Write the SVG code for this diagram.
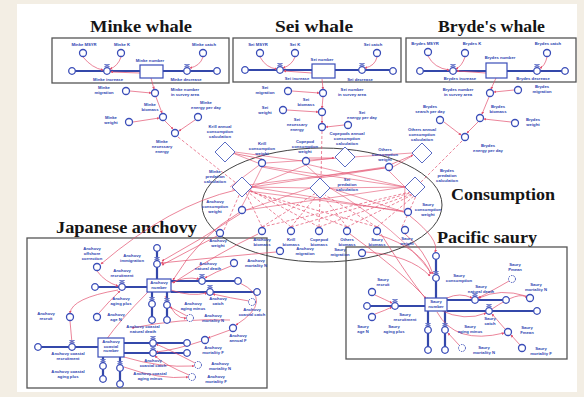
<svg xmlns="http://www.w3.org/2000/svg" xmlns:xlink="http://www.w3.org/1999/xlink" width="584" height="397" viewBox="0 0 584 397">
<style>
.t{font-family:"Liberation Sans",Arial,sans-serif;font-size:4.2px;font-weight:bold;fill:#2b3fb0;text-anchor:middle}
.ti{font-family:"Liberation Serif","Times New Roman",serif;font-weight:bold;font-size:16px;fill:#151515}
.c{fill:#fff;stroke:#3a4db8;stroke-width:1.3}
.cd{fill:#fff;stroke:#3a4db8;stroke-width:1;stroke-dasharray:1.5 1}
.dia{fill:#fff;stroke:#5a6cc4;stroke-width:1}
.stk{fill:#fff;stroke:#3a4db8;stroke-width:1.2}
.box{fill:none;stroke:#555;stroke-width:1.3}
.fl{fill:none;stroke:#3448aa;stroke-width:2.2}
.r{fill:none;stroke:#e2506e;stroke-width:0.7;marker-end:url(#ah)}
.rw{fill:none;stroke:#e2506e;stroke-width:0.6}
.rd{fill:none;stroke:#e2506e;stroke-width:0.7;stroke-dasharray:3 2}
</style>
<defs>
<marker id="ah" viewBox="0 0 6 6" refX="5" refY="3" markerWidth="4" markerHeight="4" orient="auto"><path d="M0,0 L6,3 L0,6 z" fill="#e2506e"/></marker>
<g id="valve"><path d="M-2.5,-6.5 L2.5,-6.5 L-2.5,-4.3 L2.5,-4.3 Z" fill="#fff" stroke="#3a4db8" stroke-width="0.6"/><circle r="3.3" fill="#fff" stroke="#3a4db8" stroke-width="1.3"/></g>
<g id="cloud"><circle r="3.3" fill="#fff" stroke="#3a4db8" stroke-width="1.3"/></g>
</defs>
<rect width="584" height="397" fill="#f3eee4"/>
<rect x="17" y="4" width="560" height="388" fill="#fff"/>

<!-- titles -->
<text class="ti" x="90" y="32" textLength="102" lengthAdjust="spacingAndGlyphs">Minke whale</text>
<text class="ti" x="275" y="32" textLength="78" lengthAdjust="spacingAndGlyphs">Sei whale</text>
<text class="ti" x="438" y="32" textLength="107" lengthAdjust="spacingAndGlyphs">Bryde's whale</text>
<text class="ti" x="451" y="200" textLength="104" lengthAdjust="spacingAndGlyphs">Consumption</text>
<text class="ti" x="56" y="233" textLength="141" lengthAdjust="spacingAndGlyphs">Japanese anchovy</text>
<text class="ti" x="437" y="243" textLength="100" lengthAdjust="spacingAndGlyphs">Pacific saury</text>

<!-- frames -->
<rect class="box" x="52" y="38" width="177" height="45"/>
<rect class="box" x="233" y="38" width="168" height="44"/>
<rect class="box" x="406" y="38" width="170" height="44"/>
<rect class="box" x="27" y="238" width="240" height="150"/>
<rect class="box" x="346" y="247" width="221" height="112"/>
<ellipse cx="322" cy="205" rx="120" ry="57" fill="none" stroke="#444" stroke-width="1"/>

<g id="connectors">
<!-- flows -->
<path class="fl" d="M72,71 H140 M163,71 H217"/>
<path class="fl" d="M245,70 H312 M335,70 H393"/>
<path class="fl" d="M420,71 H486 M507,71 H565"/>
<path class="fl" d="M157,248 V280 M95,287 H147 M171,281 H238 M171,292 H257 M152,292 V318 M167,292 V318"/>
<path class="fl" d="M38,347 H98 M124,343 H187 M124,353 H187 M103,357 V378 M120,357 V383"/>
<path class="fl" d="M436,258 V298 M367,306 H425 M447,300 H506 M447,311 H537 M428,310 V350 M445,310 V350"/>
<!-- minke -->
<path class="r" d="M83,57 Q92,68 103,70"/>
<path class="r" d="M121,57 Q118,66 110,69"/>
<path class="r" d="M140,73 L111,72"/>
<path class="r" d="M203,57 Q200,66 190,68"/>
<path class="r" d="M151,78 L154,89"/>
<path class="r" d="M130,91 L151,93"/>
<path class="r" d="M156,97 L162,113"/>
<path class="r" d="M133,122 L159,118"/>
<path class="r" d="M165,121 L173,129"/>
<path class="r" d="M195,120 L179,131"/>
<path class="rd" d="M178,137 L236,183"/>
<!-- sei -->
<path class="r" d="M260,57 Q266,68 277,69"/>
<path class="r" d="M295,57 Q292,65 283,68"/>
<path class="r" d="M312,73 L284,71"/>
<path class="r" d="M377,57 Q375,66 365,68"/>
<path class="r" d="M322,79 L323,89"/>
<path class="r" d="M292,91 L319,93"/>
<path class="r" d="M323,97 L322,108"/>
<path class="r" d="M287,110 L318,112"/>
<path class="r" d="M322,116 L322,123"/>
<path class="r" d="M344,125 L326,127"/>
<path class="rd" d="M322,131 L321,180"/>
<!-- bryde -->
<path class="r" d="M428,56 Q434,68 449,70"/>
<path class="r" d="M465,57 Q462,66 456,69"/>
<path class="r" d="M486,73 L457,71"/>
<path class="r" d="M547,57 Q545,66 540,68"/>
<path class="r" d="M496,78 L491,89"/>
<path class="r" d="M514,90 L494,92"/>
<path class="r" d="M489,97 L482,114"/>
<path class="r" d="M511,122 L484,119"/>
<path class="r" d="M478,122 L467,133"/>
<path class="r" d="M444,122 L461,135"/>
<path class="rd" d="M462,141 L421,182"/>
<!-- consumption web -->
<path class="rw" d="M252,187 L262,167 M252,187 L306,165 M252,187 L385,167 M252,187 L242,206 M252,187 L404,212"/>
<path class="rw" d="M230,187 L262,163 M232,187 L385,168 M232,189 L404,211"/>
<path class="rw" d="M320,178 L262,167 M320,178 L306,165 M320,178 L385,168 M310,188 L246,210 M330,188 L404,212 M310,188 L252,187"/>
<path class="rw" d="M405,187 L262,166 M405,187 L306,164 M405,187 L389,171 M405,187 L246,210 M405,187 L404,210 M405,187 L330,188"/>
<path class="rw" d="M258,163 L235,154 M310,161 L334,158 M393,167 L412,156 M266,163 L412,153 M302,161 L235,152"/>
<path class="r" d="M262,159 L232,153"/>
<path class="r" d="M309,158 L334,158"/>
<path class="r" d="M392,164 L413,155"/>
<!-- dashed biomass links -->
<path class="rd" d="M262,227 L246,193 M262,227 L316,193 M262,227 L410,192"/>
<path class="rd" d="M291,227 L248,192 M291,227 L318,194 M291,227 L410,193"/>
<path class="rd" d="M319,227 L250,190 M319,227 L320,197 M319,227 L412,194"/>
<path class="rd" d="M347,227 L250,191 M347,227 L323,196 M347,227 L412,195"/>
<path class="rd" d="M377,227 L251,192 M377,227 L325,195 M377,227 L414,196"/>
<path class="rd" d="M224,230 L240,193 M402,227 L416,196"/>
<!-- to anchovy -->
<path class="r" d="M240,214 Q200,240 162,261"/>
<path class="r" d="M217,236 Q190,250 162,265"/>
<path class="r" d="M258,234 Q220,252 173,283"/>
<path class="r" d="M276,252 Q230,256 161,263"/>
<path class="r" d="M236,190 Q170,205 101,264"/>
<path class="r" d="M240,212 Q200,235 173,280"/>
<!-- to saury -->
<path class="r" d="M379,235 Q420,248 431,274"/>
<path class="r" d="M366,252 Q410,255 430,276"/>
<path class="r" d="M405,234 Q425,250 433,274"/>
<path class="r" d="M410,216 Q440,240 435,252"/>
<path class="r" d="M381,234 Q410,280 426,299"/>
<path class="r" d="M350,234 Q400,270 428,300"/>
<path class="rw" d="M330,188 Q400,230 432,274"/>
<!-- anchovy box -->
<path class="r" d="M97,271 Q105,282 118,286"/>
<path class="r" d="M99,313 Q110,300 120,291"/>
<path class="r" d="M118,290 Q72,298 70,313"/>
<path class="r" d="M70,321 L72,343"/>
<path class="r" d="M171,283 Q185,276 199,279"/>
<path class="r" d="M231,266 Q215,272 205,278"/>
<path class="r" d="M171,290 Q190,297 207,293"/>
<path class="r" d="M249,301 Q230,298 213,294"/>
<path class="r" d="M187,316 L170,307"/>
<path class="r" d="M230,330 L208,338"/>
<path class="r" d="M202,341 Q175,350 156,352"/>
<path class="r" d="M195,363 Q170,350 156,344"/>
<path class="r" d="M189,375 Q165,365 155,356"/>
<path class="r" d="M124,357 Q160,368 194,366"/>
<path class="r" d="M124,367 Q160,380 188,377"/>
<path class="r" d="M230,320 Q180,318 132,328"/>
<path class="r" d="M165,296 Q175,320 186,318"/>
<path class="r" d="M148,292 Q120,320 106,340"/>
<path class="r" d="M240,283 Q275,300 236,325"/>
<!-- saury box -->
<path class="r" d="M375,295 Q386,300 392,303"/>
<path class="r" d="M375,314 Q386,310 392,307"/>
<path class="r" d="M447,298 Q460,292 472,298"/>
<path class="r" d="M509,281 Q490,292 478,298"/>
<path class="r" d="M526,296 Q500,288 479,298"/>
<path class="r" d="M440,310 Q465,322 486,313"/>
<path class="r" d="M505,329 L492,314"/>
<path class="r" d="M520,345 L511,335"/>
<path class="r" d="M459,345 L448,333"/>
<path class="r" d="M437,312 Q455,345 504,333"/>
<path class="r" d="M492,309 Q520,290 527,298"/>
</g>

<!-- valves and clouds -->
<use href="#cloud" x="72" y="71"/><use href="#valve" x="107" y="71"/><use href="#valve" x="187" y="71"/><use href="#cloud" x="217" y="71"/>
<use href="#cloud" x="245" y="70"/><use href="#valve" x="280" y="70"/><use href="#valve" x="362" y="70"/><use href="#cloud" x="393" y="71"/>
<use href="#cloud" x="420" y="71"/><use href="#valve" x="453" y="71"/><use href="#valve" x="537" y="71"/><use href="#cloud" x="565" y="71"/>
<use href="#cloud" x="157" y="248"/><use href="#valve" x="157" y="264"/><use href="#cloud" x="95" y="287"/><use href="#valve" x="122" y="287"/>
<use href="#valve" x="202" y="281"/><use href="#cloud" x="238" y="281"/><use href="#valve" x="210" y="292"/><use href="#cloud" x="257" y="292"/>
<use href="#valve" x="152" y="304"/><use href="#cloud" x="152" y="320"/><use href="#valve" x="167" y="305"/><use href="#cloud" x="167" y="320"/>
<use href="#cloud" x="38" y="347"/><use href="#valve" x="72" y="347"/><use href="#valve" x="153" y="343"/><use href="#cloud" x="187" y="343"/>
<use href="#valve" x="153" y="353"/><use href="#cloud" x="187" y="353"/><use href="#valve" x="103" y="366"/><use href="#cloud" x="103" y="379"/>
<use href="#valve" x="120" y="368"/><use href="#cloud" x="120" y="384"/>
<use href="#cloud" x="436" y="256"/><use href="#valve" x="436" y="278"/><use href="#cloud" x="367" y="306"/><use href="#valve" x="395" y="306"/>
<use href="#valve" x="475" y="300"/><use href="#cloud" x="506" y="300"/><use href="#valve" x="489" y="311"/><use href="#cloud" x="537" y="311"/>
<use href="#valve" x="428" y="330"/><use href="#cloud" x="428" y="350"/><use href="#valve" x="445" y="330"/><use href="#cloud" x="445" y="350"/>

<!-- Minke -->
<g id="minke-msyr"><circle class="c" cx="83" cy="53" r="3.5"/><text class="t" x="84" y="46">Minke MSYR</text></g>
<g id="minke-k"><circle class="c" cx="121" cy="53" r="3.5"/><text class="t" x="122" y="46">Minke K</text></g>
<g id="minke-catch"><circle class="c" cx="203" cy="53" r="3.5"/><text class="t" x="204" y="46">Minke catch</text></g>
<g id="minke-number"><rect class="stk" x="140" y="65" width="23" height="13"/><text class="t" x="150" y="62">Minke number</text></g>
<g id="minke-increase"><text class="t" x="108" y="81">Minke increase</text></g>
<g id="minke-decrease"><text class="t" x="186" y="81">Minke decrease</text></g>
<g id="minke-survey"><circle class="c" cx="155" cy="93" r="3.5"/><text class="t" x="185" y="91">Minke number<tspan x="185" dy="4.8">in survey area</tspan></text></g>
<g id="minke-migration"><circle class="c" cx="126" cy="91" r="3.5"/><text class="t" x="104" y="89">Minke<tspan x="104" dy="4.8">migration</tspan></text></g>
<g id="minke-biomass"><circle class="c" cx="163" cy="117" r="3.5"/><text class="t" x="150" y="106">Minke<tspan x="150" dy="4.8">biomass</tspan></text></g>
<g id="minke-weight"><circle class="c" cx="129" cy="122" r="3.5"/><text class="t" x="111" y="119">Minke<tspan x="111" dy="4.8">weight</tspan></text></g>
<g id="minke-energy"><circle class="c" cx="198" cy="117" r="3.5"/><text class="t" x="206" y="104">Minke<tspan x="206" dy="4.8">energy per day</tspan></text></g>
<g id="minke-necessary"><circle class="c" cx="175" cy="133" r="3.5"/><text class="t" x="162" y="143">Minke<tspan x="162" dy="4.8">necessary</tspan><tspan x="162" dy="4.8">energy</tspan></text></g>

<!-- Sei -->
<g id="sei-msyr"><circle class="c" cx="260" cy="53" r="3.5"/><text class="t" x="258" y="46">Sei MSYR</text></g>
<g id="sei-k"><circle class="c" cx="295" cy="53" r="3.5"/><text class="t" x="295" y="46">Sei K</text></g>
<g id="sei-catch"><circle class="c" cx="377" cy="53" r="3.5"/><text class="t" x="373" y="46">Sei catch</text></g>
<g id="sei-number"><rect class="stk" x="312" y="64" width="23" height="14"/><text class="t" x="322" y="61">Sei number</text></g>
<g id="sei-increase"><text class="t" x="297" y="80">Sei increase</text></g>
<g id="sei-decrease"><text class="t" x="360" y="81">Sei decrease</text></g>
<g id="sei-survey"><circle class="c" cx="323" cy="93" r="3.5"/><text class="t" x="352" y="91">Sei number<tspan x="352" dy="4.8">in survey area</tspan></text></g>
<g id="sei-migration"><circle class="c" cx="288" cy="91" r="3.5"/><text class="t" x="265" y="89">Sei<tspan x="265" dy="4.8">migration</tspan></text></g>
<g id="sei-biomass"><circle class="c" cx="322" cy="112" r="3.5"/><text class="t" x="306" y="101">Sei<tspan x="306" dy="4.8">biomass</tspan></text></g>
<g id="sei-weight"><circle class="c" cx="283" cy="110" r="3.5"/><text class="t" x="265" y="109">Sei<tspan x="265" dy="4.8">weight</tspan></text></g>
<g id="sei-energy"><circle class="c" cx="348" cy="125" r="3.5"/><text class="t" x="362" y="114">Sei<tspan x="362" dy="4.8">energy per day</tspan></text></g>
<g id="sei-necessary"><circle class="c" cx="322" cy="127" r="3.5"/><text class="t" x="297" y="121">Sei<tspan x="297" dy="4.8">necessary</tspan><tspan x="297" dy="4.8">energy</tspan></text></g>

<!-- Bryde -->
<g id="brydes-msyr"><circle class="c" cx="428" cy="52" r="3.5"/><text class="t" x="425" y="45">Brydes MSYR</text></g>
<g id="brydes-k"><circle class="c" cx="465" cy="53" r="3.5"/><text class="t" x="472" y="45">Brydes K</text></g>
<g id="brydes-catch"><circle class="c" cx="547" cy="53" r="3.5"/><text class="t" x="548" y="45">Brydes catch</text></g>
<g id="brydes-number"><rect class="stk" x="486" y="63" width="21" height="15"/><text class="t" x="500" y="59">Brydes number</text></g>
<g id="brydes-increase"><text class="t" x="460" y="80">Brydes increase</text></g>
<g id="brydes-decrease"><text class="t" x="533" y="80">Brydes decrease</text></g>
<g id="brydes-survey"><circle class="c" cx="490" cy="93" r="3.5"/><text class="t" x="458" y="91">Brydes number<tspan x="458" dy="4.8">in survey area</tspan></text></g>
<g id="brydes-migration"><circle class="c" cx="518" cy="90" r="3.5"/><text class="t" x="542" y="88">Brydes<tspan x="542" dy="4.8">migration</tspan></text></g>
<g id="brydes-biomass"><circle class="c" cx="480" cy="118" r="3.5"/><text class="t" x="498" y="108">Brydes<tspan x="498" dy="4.8">biomass</tspan></text></g>
<g id="brydes-weight"><circle class="c" cx="515" cy="123" r="3.5"/><text class="t" x="533" y="121">Brydes<tspan x="533" dy="4.8">weight</tspan></text></g>
<g id="brydes-search"><circle class="c" cx="440" cy="120" r="3.5"/><text class="t" x="430" y="108">Brydes<tspan x="430" dy="4.8">search per day</tspan></text></g>
<g id="brydes-necessary"><circle class="c" cx="465" cy="137" r="3.5"/><text class="t" x="488" y="147">Brydes<tspan x="488" dy="4.8">energy per day</tspan></text></g>

<!-- Consumption -->
<g id="krill-annual"><path class="dia" d="M225,142 L235,152 L225,162 L215,152 Z"/><text class="t" x="220" y="128">Krill annual<tspan x="220" dy="4.8">consumption</tspan><tspan x="220" dy="4.8">calculation</tspan></text></g>
<g id="copepods-annual"><path class="dia" d="M345,147 L355,157 L345,167 L335,157 Z"/><text class="t" x="347" y="135">Copepods annual<tspan x="347" dy="4.8">consumption</tspan><tspan x="347" dy="4.8">calculation</tspan></text></g>
<g id="others-annual"><path class="dia" d="M422,143 L432,153 L422,163 L412,153 Z"/><text class="t" x="422" y="131">Others annual<tspan x="422" dy="4.8">consumption</tspan><tspan x="422" dy="4.8">calculation</tspan></text></g>
<g id="krill-weight"><circle class="c" cx="262" cy="163" r="3.5"/><text class="t" x="262" y="145">Krill<tspan x="262" dy="4.8">consumption</tspan><tspan x="262" dy="4.8">weight</tspan></text></g>
<g id="copepod-weight"><circle class="c" cx="306" cy="161" r="3.5"/><text class="t" x="305" y="143">Copepod<tspan x="305" dy="4.8">consumption</tspan><tspan x="305" dy="4.8">weight</tspan></text></g>
<g id="others-weight"><circle class="c" cx="389" cy="167" r="3.5"/><text class="t" x="385" y="151">Others<tspan x="385" dy="4.8">consumption</tspan><tspan x="385" dy="4.8">weight</tspan></text></g>
<g id="anchovy-cons-weight"><circle class="c" cx="242" cy="210" r="3.5"/><text class="t" x="215" y="203">Anchovy<tspan x="215" dy="4.8">consumption</tspan><tspan x="215" dy="4.8">weight</tspan></text></g>
<g id="saury-cons-weight"><circle class="c" cx="408" cy="212" r="3.5"/><text class="t" x="428" y="206">Saury<tspan x="428" dy="4.8">consumption</tspan><tspan x="428" dy="4.8">weight</tspan></text></g>
<g id="minke-pred"><path class="dia" d="M242,177 L252,187 L242,197 L232,187 Z"/><text class="t" x="215" y="173">Minke<tspan x="215" dy="4.8">predation</tspan><tspan x="215" dy="4.8">calculation</tspan></text></g>
<g id="sei-pred"><path class="dia" d="M320,178 L330,188 L320,198 L310,188 Z"/><text class="t" x="347" y="181">Sei<tspan x="347" dy="4.8">predation</tspan><tspan x="347" dy="4.8">calculation</tspan></text></g>
<g id="brydes-pred"><path class="dia" d="M415,177 L425,187 L415,197 L405,187 Z"/><text class="t" x="447" y="172">Brydes<tspan x="447" dy="4.8">predation</tspan><tspan x="447" dy="4.8">calculation</tspan></text></g>
<g id="anchovy-biomass"><circle class="c" cx="262" cy="231" r="3.5"/><text class="t" x="262" y="241">Anchovy<tspan x="262" dy="4.8">biomass</tspan></text></g>
<g id="krill-biomass"><circle class="c" cx="291" cy="231" r="3.5"/><text class="t" x="291" y="241">Krill<tspan x="291" dy="4.8">biomass</tspan></text></g>
<g id="copepod-biomass"><circle class="c" cx="319" cy="231" r="3.5"/><text class="t" x="319" y="241">Copepod<tspan x="319" dy="4.8">biomass</tspan></text></g>
<g id="others-biomass"><circle class="c" cx="347" cy="231" r="3.5"/><text class="t" x="347" y="241">Others<tspan x="347" dy="4.8">biomass</tspan></text></g>
<g id="saury-biomass"><circle class="c" cx="377" cy="231" r="3.5"/><text class="t" x="377" y="241">Saury<tspan x="377" dy="4.8">biomass</tspan></text></g>
<g id="saury-weight"><circle class="c" cx="405" cy="230" r="3.5"/><text class="t" x="407" y="240">Saury<tspan x="407" dy="4.8">weight</tspan></text></g>
<g id="anchovy-weight"><circle class="c" cx="220" cy="233" r="3.5"/><text class="t" x="218" y="242">Anchovy<tspan x="218" dy="4.8">weight</tspan></text></g>
<g id="anchovy-migration"><circle class="c" cx="280" cy="251" r="3.5"/><text class="t" x="305" y="250">Anchovy<tspan x="305" dy="4.8">migration</tspan></text></g>
<g id="saury-migration"><circle class="c" cx="362" cy="253" r="3.5"/><text class="t" x="340" y="251">Saury<tspan x="340" dy="4.8">migration</tspan></text></g>

<!-- Anchovy -->
<g id="anchovy-offshore"><circle class="c" cx="97" cy="267" r="3.5"/><text class="t" x="92" y="250">Anchovy<tspan x="92" dy="4.8">offshore</tspan><tspan x="92" dy="4.8">correction</tspan></text></g>
<g id="anchovy-immigration"><text class="t" x="132" y="257">Anchovy<tspan x="132" dy="4.8">immigration</tspan></text></g>
<g id="anchovy-number"><rect class="stk" x="147" y="279" width="24" height="13"/><text class="t" x="159" y="284">Anchovy<tspan x="159" dy="4.8">number</tspan></text></g>
<g id="anchovy-recruitment"><text class="t" x="122" y="272">Anchovy<tspan x="122" dy="4.8">recruitment</tspan></text></g>
<g id="anchovy-natural-death"><text class="t" x="208" y="265">Anchovy<tspan x="208" dy="4.8">natural death</tspan></text></g>
<g id="anchovy-mortality-n1"><circle class="c" cx="234" cy="263" r="3.5"/><text class="t" x="256" y="262">Anchovy<tspan x="256" dy="4.8">mortality N</tspan></text></g>
<g id="anchovy-catch"><text class="t" x="218" y="300">Anchovy<tspan x="218" dy="4.8">catch</tspan></text></g>
<g id="anchovy-coastal-catch-s"><circle class="cd" cx="252" cy="302" r="3.5"/><text class="t" x="252" y="311">Anchovy<tspan x="252" dy="4.8">coastal catch</tspan></text></g>
<g id="anchovy-aging-minus"><text class="t" x="193" y="305">Anchovy<tspan x="193" dy="4.8">aging minus</tspan></text></g>
<g id="anchovy-aging-plus"><text class="t" x="121" y="300">Anchovy<tspan x="121" dy="4.8">aging plus</tspan></text></g>
<g id="anchovy-mortality-n2"><circle class="cd" cx="190" cy="318" r="3.5"/><text class="t" x="213" y="317">Anchovy<tspan x="213" dy="4.8">mortality N</tspan></text></g>
<g id="anchovy-age-n"><circle class="c" cx="97" cy="317" r="3.5"/><text class="t" x="116" y="316">Anchovy<tspan x="116" dy="4.8">age N</tspan></text></g>
<g id="anchovy-recruit"><circle class="c" cx="70" cy="317" r="3.5"/><text class="t" x="46" y="315">Anchovy<tspan x="46" dy="4.8">recruit</tspan></text></g>
<g id="anchovy-coastal-natural-death"><text class="t" x="143" y="328">Anchovy coastal<tspan x="143" dy="4.8">natural death</tspan></text></g>
<g id="anchovy-coastal-number"><rect class="stk" x="98" y="338" width="26" height="19"/><text class="t" x="111" y="343">Anchovy<tspan x="111" dy="4.6">coastal</tspan><tspan x="111" dy="4.6">number</tspan></text></g>
<g id="anchovy-coastal-recruitment"><text class="t" x="68" y="355">Anchovy coastal<tspan x="68" dy="4.8">recruitment</tspan></text></g>
<g id="anchovy-coastal-catch"><text class="t" x="153" y="362">Anchovy<tspan x="153" dy="4.8">coastal catch</tspan></text></g>
<g id="anchovy-annual-f"><circle class="c" cx="233" cy="328" r="3.5"/><text class="t" x="238" y="337">Anchovy<tspan x="238" dy="4.8">annual F</tspan></text></g>
<g id="anchovy-mortality-f1"><circle class="c" cx="205" cy="340" r="3.5"/><text class="t" x="213" y="349">Anchovy<tspan x="213" dy="4.8">mortality F</tspan></text></g>
<g id="anchovy-mortality-n3"><circle class="cd" cx="198" cy="365" r="3.5"/><text class="t" x="220" y="365">Anchovy<tspan x="220" dy="4.8">mortality N</tspan></text></g>
<g id="anchovy-mortality-f2"><circle class="cd" cx="192" cy="377" r="3.5"/><text class="t" x="216" y="378">Anchovy<tspan x="216" dy="4.8">mortality F</tspan></text></g>
<g id="anchovy-coastal-aging-plus"><text class="t" x="68" y="373">Anchovy coastal<tspan x="68" dy="4.8">aging plus</tspan></text></g>
<g id="anchovy-coastal-aging-minus"><text class="t" x="150" y="375">Anchovy coastal<tspan x="150" dy="4.8">aging minus</tspan></text></g>

<!-- Saury -->
<g id="saury-consumption"><text class="t" x="459" y="277">Saury<tspan x="459" dy="4.8">consumption</tspan></text></g>
<g id="saury-number"><rect class="stk" x="425" y="298" width="22" height="13"/><text class="t" x="436" y="303">Saury<tspan x="436" dy="4.8">number</tspan></text></g>
<g id="saury-pmean"><circle class="cd" cx="512" cy="279" r="3.5"/><text class="t" x="515" y="266">Saury<tspan x="515" dy="4.8">Pmean</tspan></text></g>
<g id="saury-mortality-n"><circle class="c" cx="530" cy="298" r="3.5"/><text class="t" x="536" y="286">Saury<tspan x="536" dy="4.8">mortality N</tspan></text></g>
<g id="saury-natural-death"><text class="t" x="481" y="288">Saury<tspan x="481" dy="4.8">natural death</tspan></text></g>
<g id="saury-catch"><text class="t" x="490" y="320">Saury<tspan x="490" dy="4.8">catch</tspan></text></g>
<g id="saury-fmean"><circle class="c" cx="508" cy="332" r="3.5"/><text class="t" x="527" y="329">Saury<tspan x="527" dy="4.8">Fmean</tspan></text></g>
<g id="saury-mortality-f"><circle class="c" cx="522" cy="348" r="3.5"/><text class="t" x="541" y="350">Saury<tspan x="541" dy="4.8">mortality F</tspan></text></g>
<g id="saury-recruit"><circle class="c" cx="372" cy="292" r="3.5"/><text class="t" x="383" y="281">Saury<tspan x="383" dy="4.8">recruit</tspan></text></g>
<g id="saury-age-n"><circle class="c" cx="372" cy="317" r="3.5"/><text class="t" x="363" y="328">Saury<tspan x="363" dy="4.8">age N</tspan></text></g>
<g id="saury-recruitment"><text class="t" x="405" y="316">Saury<tspan x="405" dy="4.8">recruitment</tspan></text></g>
<g id="saury-aging-plus"><text class="t" x="394" y="328">Saury<tspan x="394" dy="4.8">aging plus</tspan></text></g>
<g id="saury-aging-minus"><text class="t" x="470" y="328">Saury<tspan x="470" dy="4.8">aging minus</tspan></text></g>
<g id="saury-mortality-n2"><circle class="cd" cx="462" cy="348" r="3.5"/><text class="t" x="484" y="349">Saury<tspan x="484" dy="4.8">mortality N</tspan></text></g>
</svg>
